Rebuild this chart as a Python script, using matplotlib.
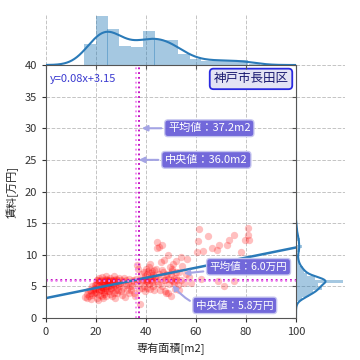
import matplotlib
matplotlib.use('Agg')
import matplotlib.pyplot as plt
import numpy as np

plt.rcParams['font.family'] = ['Noto Sans CJK JP', 'DejaVu Sans']
plt.rcParams['font.size'] = 8

# 専有面積[m2] and 賃料[万円] (grouped roughly by x)
area = [15.5, 16.2, 16.8, 17.0, 17.5, 17.8, 18.0, 18.3, 18.5, 18.7, 19.0, 19.2, 19.4, 19.5, 19.6, 19.8, 16.5,
        20.0, 20.2, 20.4, 20.5, 20.7, 20.9, 21.0, 21.2, 21.3, 21.5, 21.6, 21.8, 22.0, 22.1, 22.3, 22.4, 22.5, 22.7,
        22.8, 23.0, 23.1, 23.2, 23.4, 23.5, 23.6, 23.8, 23.9, 24.0, 24.1, 24.2, 24.3, 24.4, 24.5, 20.3, 21.1, 22.2,
        22.9, 23.3, 24.0, 21.9,
        24.8, 25.0, 25.2, 25.4, 25.5, 25.7, 25.9, 26.0, 26.2, 26.4, 26.5, 26.7, 26.9, 27.0, 27.2, 27.4, 27.5, 27.7,
        27.9, 28.0, 28.2, 28.4, 28.5, 28.7, 28.9, 29.0, 29.2, 25.3, 26.1, 27.3,
        29.5, 29.8, 30.0, 30.3, 30.6, 30.9, 31.2, 31.5, 31.8, 32.1, 32.4, 32.7, 33.0, 33.3, 33.6, 33.9,
        34.2, 34.6, 35.0, 35.3, 35.7, 36.0, 36.2, 36.5, 36.8, 37.0, 37.3, 37.6, 38.0, 38.2, 38.5,
        38.8, 39.0, 39.2, 39.4, 39.6, 39.8, 40.0, 40.2, 40.4, 40.6, 40.8, 41.0, 41.2, 41.4, 41.6, 41.8, 42.0, 42.2,
        42.4, 42.6, 42.8, 43.0, 43.2, 39.5, 40.5, 41.5, 42.5, 43.3,
        43.6, 43.9, 44.2, 44.5, 44.8, 45.0, 45.3, 45.6, 45.9, 46.2, 46.4, 46.7, 47.0, 47.2, 47.5, 47.8, 44.3, 45.5,
        46.3, 47.4, 48.0,
        48.3, 48.6, 48.9, 49.2, 49.5, 49.8, 50.0, 50.3, 50.6, 50.9, 51.2, 51.5, 51.8, 52.1, 52.4, 52.7, 48.7, 49.9,
        50.5, 51.0, 52.0,
        53.0, 53.3, 53.8, 54.0, 54.5, 55.2, 55.8, 56.5, 57.0,
        58.0, 60.3, 60.7, 61.3, 61.8, 62.9, 64.7, 66.4, 68.3, 69.3, 68.7, 71.3,
        72.3, 73.3, 75.3, 75.3, 78.0, 79.6, 80.7, 80.6, 81.2]
rent = [3.3, 3.8, 4.2, 3.5, 4.5, 3.0, 4.0, 5.0, 3.6, 4.4, 4.8, 3.9, 5.2, 4.1, 4.6, 5.5, 3.2,
        4.0, 5.5, 3.2, 6.0, 4.6, 2.9, 5.0, 6.3, 4.3, 5.8, 3.6, 4.9, 6.0, 4.5, 5.2, 3.4, 6.5, 4.8,
        5.6, 4.1, 5.9, 3.8, 6.0, 5.3, 4.4, 6.2, 3.5, 5.0, 4.7, 5.8, 6.0, 4.2, 5.4, 6.0, 5.8, 4.9,
        3.1, 5.6, 6.6, 4.4,
        5.0, 6.0, 4.2, 5.6, 3.8, 6.4, 5.2, 4.6, 5.9, 3.5, 6.0, 4.9, 5.4, 6.6, 4.0, 5.8, 3.2, 5.1,
        6.2, 4.5, 5.7, 3.9, 6.0, 5.3, 4.4, 6.3, 5.0, 5.8, 4.8, 6.0,
        5.5, 4.2, 6.0, 3.6, 5.8, 4.8, 6.4, 3.3, 5.2, 6.0, 4.5, 5.6, 3.9, 6.2, 5.0, 4.4,
        5.0, 6.0, 4.0, 5.8, 3.4, 6.2, 8.4, 5.5, 7.8, 4.6, 6.0, 2.2, 7.0, 5.9, 4.8,
        6.0, 7.2, 5.1, 6.6, 4.3, 7.8, 5.8, 6.9, 4.8, 7.5, 6.0, 5.4, 8.0, 6.3, 4.6, 7.1, 6.0, 5.7,
        7.4, 6.8, 5.0, 7.6, 6.1, 6.2, 5.9, 8.5, 6.5, 4.4,
        6.5, 7.8, 11.0, 12.0, 5.4, 7.0, 11.3, 6.2, 8.8, 11.5, 5.0, 7.3, 6.0, 9.2, 4.2, 6.8, 5.9, 4.4,
        7.6, 6.0, 3.9,
        7.0, 10.0, 6.2, 5.3, 8.0, 6.0, 3.4, 7.5, 5.8, 8.6, 6.4, 4.6, 7.2, 9.0, 6.0, 5.2, 4.0, 6.9,
        7.8, 5.5, 6.3,
        4.5, 7.3, 9.7, 6.0, 8.2, 5.6, 7.0, 9.4, 6.5,
        5.5, 10.5, 12.1, 14.0, 6.1, 10.6, 12.9, 11.0, 10.7, 11.5, 5.8, 5.0,
        11.5, 12.3, 13.1, 5.8, 10.5, 12.4, 14.2, 13.1, 12.3]

# values written on the chart
mean_area, median_area = 37.2, 36.0
mean_rent, median_rent = 6.0, 5.8
slope, intercept = 0.08, 3.15
region = '神戸市長田区'


def kde(v, grid):
    v = np.asarray(v)
    n = len(v)
    iqr = np.subtract(*np.percentile(v, [75, 25]))
    bw = 1.059 * min(v.std(ddof=1), iqr / 1.349) * n ** (-0.2)
    z = (grid[:, None] - v[None, :]) / bw
    return np.exp(-0.5 * z ** 2).sum(1) / (n * bw * np.sqrt(2 * np.pi))


fig = plt.figure(figsize=(3.6, 3.6), dpi=100)
ax = fig.add_axes([46 / 360, 42 / 360, 250 / 360, 253 / 360])
ax_top = fig.add_axes([46 / 360, 295 / 360, 250 / 360, 51 / 360], sharex=ax)
ax_right = fig.add_axes([296 / 360, 42 / 360, 49 / 360, 253 / 360], sharey=ax)

grid_kw = dict(ls='--', color='#c4c4c4', lw=0.7)
spine_c = '#555555'

# main scatter
ax.scatter(area, rent, s=28, color='red', alpha=0.25, lw=0)
ax.set_xlim(0, 100)
ax.set_ylim(0, 40)
lx = np.array(ax.get_xlim())
ax.plot(lx, slope * lx + intercept, color='#2a7ab8', lw=1.8)

ax.axvline(mean_area, color='m', ls=':', lw=1.3)
ax.axvline(median_area, color='violet', ls=':', lw=1.3)
ax.axhline(mean_rent, color='m', ls=':', lw=1.3)
ax.axhline(median_rent, color='violet', ls=':', lw=1.3)

ax.set_xticks(range(0, 101, 20))
ax.set_yticks(range(0, 41, 5))
ax.grid(**grid_kw)
ax.set_axisbelow(True)
for s in ['top', 'right']:
    ax.spines[s].set_visible(False)
for s in ['left', 'bottom']:
    ax.spines[s].set_color(spine_c)
ax.tick_params(colors='#333333', length=3)
ax.set_xlabel('専有面積[m2]', color='#222222')
ax.set_ylabel('賃料[万円]', color='#222222')

box = dict(boxstyle='round,pad=0.3', fc='#6a60d8', ec='#c8c8f0', lw=1, alpha=0.95)
arrow = dict(arrowstyle='-|>', color='#a4a4e4', lw=1.5)
ax.annotate('平均値：%.1fm2' % mean_area, xy=(mean_area, 30), xytext=(mean_area + 11.6, 30),
            va='center', color='white', bbox=box, arrowprops=arrow)
ax.annotate('中央値：%.1fm2' % median_area, xy=(median_area, 25), xytext=(median_area + 11.6, 25),
            va='center', color='white', bbox=box, arrowprops=arrow)
ax.annotate('平均値：%.1f万円' % mean_rent, xy=(54, 7.0), xytext=(65.5, 8.1),
            va='center', color='white', bbox=box, arrowprops=arrow, fontsize=7.6)
ax.annotate('中央値：%.1f万円' % median_rent, xy=(50, 5.6), xytext=(60, 2.0),
            va='center', color='white', bbox=box, fontsize=7.6,
            arrowprops=dict(arrow, connectionstyle='arc3,rad=-0.35'))

ax.text(0.015, 0.945, 'y=%.2fx+%.2f' % (slope, intercept), transform=ax.transAxes,
        color='#3a3ad0', va='center', fontsize=8)
ax.text(0.97, 0.945, region, transform=ax.transAxes, ha='right', va='center', fontsize=9,
        color='#1a1a70',
        bbox=dict(boxstyle='round,pad=0.3', fc='#e4e4f4', ec='#2a2ae0', lw=1.3))

# top marginal
x_bins = np.arange(15.2, 100, 4.7)
hx, _, _ = ax_top.hist(area, bins=x_bins, density=True, color='#1f77b4', alpha=0.4)
gx = np.linspace(0, 100, 300)
kx = kde(area, gx)
ax_top.plot(gx, kx, color='#2a7ab8', lw=1.5)
ax_top.set_ylim(0, max(hx.max(), kx.max()) * 1.05)
ax_top.grid(axis='x', **grid_kw)
ax_top.set_axisbelow(True)
for s in ['top', 'right', 'left']:
    ax_top.spines[s].set_visible(False)
ax_top.spines['bottom'].set_color(spine_c)
ax_top.tick_params(labelbottom=False, labelleft=False, left=False, length=3, colors=spine_c)

# right marginal
y_bins = np.arange(2.2, 14.8, 0.55)
hy, _, _ = ax_right.hist(rent, bins=y_bins, density=True, orientation='horizontal',
                         color='#1f77b4', alpha=0.4)
gy = np.linspace(0, 40, 600)
ky = kde(rent, gy)
ax_right.plot(ky, gy, color='#2a7ab8', lw=1.5)
ax_right.set_xlim(0, max(hy.max(), ky.max()) * 1.05)
ax_right.grid(axis='y', **grid_kw)
ax_right.set_axisbelow(True)
for s in ['top', 'right', 'bottom']:
    ax_right.spines[s].set_visible(False)
ax_right.spines['left'].set_color(spine_c)
ax_right.tick_params(labelbottom=False, labelleft=False, bottom=False, length=3, colors=spine_c)

fig.savefig('out.png', dpi=100)
